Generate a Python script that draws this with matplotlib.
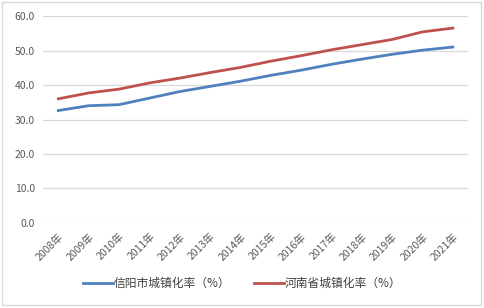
import matplotlib.pyplot as plt
from matplotlib.patches import Rectangle

plt.rcParams['font.family'] = ['Noto Sans CJK SC', 'DejaVu Sans']

# data
years = ["2008年", "2009年", "2010年", "2011年", "2012年", "2013年", "2014年",
         "2015年", "2016年", "2017年", "2018年", "2019年", "2020年", "2021年"]
xinyang = [32.6, 34.0, 34.3, 36.2, 38.1, 39.6, 41.1,
           42.8, 44.3, 46.0, 47.5, 48.9, 50.1, 51.0]
henan = [36.0, 37.7, 38.8, 40.6, 42.0, 43.6, 45.1,
         46.9, 48.5, 50.2, 51.7, 53.2, 55.4, 56.5]
yticks = [0, 10, 20, 30, 40, 50, 60]

fig = plt.figure(figsize=(4.85, 3.08), dpi=100)
ax = fig.add_axes([0.089, 0.276, 0.876, 0.672])

x = range(len(years))
ax.plot(x, xinyang, color='#4F81BD', lw=2.0, label='信阳市城镇化率（%）')
ax.plot(x, henan, color='#C0504D', lw=2.0, label='河南省城镇化率（%）')

ax.set_xlim(-0.5, len(years) - 0.5)
ax.set_ylim(0, 60)
ax.set_yticks(yticks)
ax.set_yticklabels([f"{v:.1f}" for v in yticks], fontsize=7.5, color='#595959')
ax.set_xticks(list(x))
ax.set_xticklabels(years, rotation=45, ha='right', rotation_mode='anchor',
                   fontsize=7.5, color='#595959')
ax.tick_params(length=0, pad=6)
ax.grid(axis='y', color='#D9D9D9', lw=0.9)
ax.set_axisbelow(True)
for s in ax.spines.values():
    s.set_visible(False)

fig.legend(loc='lower center', bbox_to_anchor=(0.5, 0.025), ncol=2, frameon=False,
           fontsize=8.5, handlelength=2.5, handletextpad=0.1, columnspacing=2.0,
           labelcolor='#404040')

fig.patches.append(Rectangle((0.004, 0.01), 0.988, 0.982, transform=fig.transFigure,
                             fill=False, edgecolor='#D9D9D9', lw=1))

fig.savefig('out.png', dpi=100)
